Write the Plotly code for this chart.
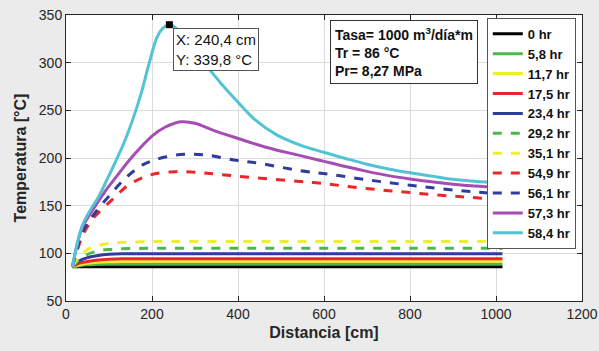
import plotly.graph_objects as go

# ---- data ----
low_x = [15, 30, 50, 75, 100, 130, 200, 400, 600, 800, 1015]
t00_0 = [86, 86, 86, 86, 86, 86, 86, 86, 86, 86, 86]
t05_8 = [86, 87, 88, 88.5, 88.8, 88.9, 88.9, 88.9, 88.9, 88.9, 88.9]
t11_7 = [86, 88, 89.5, 90.6, 91.2, 91.5, 91.6, 91.6, 91.6, 91.6, 91.6]
t17_5 = [86, 89.5, 91.5, 93, 93.8, 94.3, 94.4, 94.4, 94.4, 94.4, 94.4]
t23_4 = [86, 92, 95.5, 97.8, 99, 99.5, 99.6, 99.6, 99.6, 99.6, 99.6]
t29_2 = [86, 93, 99, 102.5, 104, 104.8, 105.3, 105.3, 105.3, 105.3, 105.3]
t35_1 = [86, 96, 104, 108, 110.3, 111.5, 112.3, 112.5, 112.4, 112.3, 112.3]

x54_9 = [15, 40, 64, 107, 146, 196, 254, 300, 351, 444, 576, 692, 800, 913, 1015]
t54_9 = [86, 120, 137, 156, 171.8, 182.2, 185.7, 185, 183, 179, 174.2, 168.3, 163.7, 159.5, 156.5]

x56_1 = [15, 40, 64, 99, 138, 177, 200, 231, 275, 328, 390, 448, 545, 611, 719, 828, 940, 1015]
t56_1 = [86, 124, 140.4, 159.5, 178.8, 192.5, 197, 201, 204, 203, 198, 194.5, 186.7, 183, 176, 170, 164.8, 162.5]

x57_3 = [15, 37, 60, 91, 120, 153.5, 200, 231, 268, 300, 340, 400, 467, 545, 600, 650, 700, 750, 800, 850, 900, 950, 1015]
t57_3 = [86, 126, 144, 165, 182, 201, 223, 232.5, 238, 236.5, 229.5, 220.5, 211, 202.5, 196.5, 191, 186, 181.5, 178, 175, 172.5, 170.5, 168.5]

x58_4 = [15, 37, 55, 76, 95, 115, 135, 155, 175, 192, 212, 225, 240.4, 255, 280, 300, 328, 360, 399, 440, 491, 545, 599, 650, 700, 750, 800, 850, 900, 950, 1015]
t58_4 = [86, 128, 144, 159.5, 177, 196, 216, 240, 268, 297, 327, 336, 339.8, 336.5, 323, 311.5, 296, 278.5, 259, 240, 224, 213.5, 206, 199.5, 193.5, 188.5, 184.5, 181, 177.7, 175.5, 173.5]

peak_x = [240.4]
peak_y = [339.8]

x_ticks = [0, 200, 400, 600, 800, 1000, 1200]
y_ticks = [50, 100, 150, 200, 250, 300, 350]

series = [
    ("0 hr", low_x, t00_0, "#000000", "solid"),
    ("5,8 hr", low_x, t05_8, "#4cb84c", "solid"),
    ("11,7 hr", low_x, t11_7, "#eeee2c", "solid"),
    ("17,5 hr", low_x, t17_5, "#e8272b", "solid"),
    ("23,4 hr", low_x, t23_4, "#2f3c9e", "solid"),
    ("29,2 hr", low_x, t29_2, "#4cb84c", "dash"),
    ("35,1 hr", low_x, t35_1, "#eeee2c", "dash"),
    ("54,9 hr", x54_9, t54_9, "#e8272b", "dash"),
    ("56,1 hr", x56_1, t56_1, "#2f3c9e", "dash"),
    ("57,3 hr", x57_3, t57_3, "#a64db3", "solid"),
    ("58,4 hr", x58_4, t58_4, "#52c3d4", "solid"),
]

FONT = "Arial, 'Liberation Sans', sans-serif"

fig = go.Figure()
for name, xs, ys, col, dash in series:
    fig.add_trace(go.Scatter(
        x=xs, y=ys, name=name, mode="lines",
        line=dict(color=col, width=3, dash=dash, shape="spline", smoothing=1.0),
    ))

fig.add_trace(go.Scatter(
    x=peak_x, y=peak_y, mode="markers", showlegend=False,
    marker=dict(symbol="square", size=7, color="black"),
))

fig.add_annotation(
    xref="paper", yref="paper", x=0.208, y=0.953, xanchor="left", yanchor="top",
    text="X: 240,4 cm<br>Y: 339,8 °C", align="left", showarrow=False,
    font=dict(family=FONT, size=15, color="#111111"),
    bgcolor="white", bordercolor="#555555", borderwidth=1, borderpad=2,
)
fig.add_annotation(
    xref="paper", yref="paper", x=0.512, y=0.982, xanchor="left", yanchor="top",
    text="<b>Tasa= 1000 m<sup>3</sup>/día*m<br>Tr = 86 °C<br>Pr= 8,27 MPa</b>",
    align="left", showarrow=False,
    font=dict(family=FONT, size=14, color="#111111"),
    bgcolor="white", bordercolor="#333333", borderwidth=1, borderpad=4,
)

axis_common = dict(
    automargin=False,
    showline=True, linecolor="#262626", linewidth=1, mirror="ticks",
    ticks="inside", ticklen=5, tickcolor="#262626",
    showgrid=True, gridcolor="#dcdcdc", gridwidth=1, zeroline=False,
    tickfont=dict(family=FONT, size=14, color="#262626"),
)

fig.update_layout(
    width=599, height=351,
    margin=dict(l=66, r=17, t=15, b=50),
    paper_bgcolor="#ebebeb", plot_bgcolor="white",
    font=dict(family=FONT, color="#262626"),
    xaxis=dict(range=[0, 1200], tickvals=x_ticks,
               title=dict(text="<b>Distancia [cm]</b>", font=dict(family=FONT, size=16, color="#262626"), standoff=6),
               **axis_common),
    yaxis=dict(range=[50, 350], tickvals=y_ticks,
               title=dict(text="<b>Temperatura [°C]</b>", font=dict(family=FONT, size=16, color="#262626"), standoff=8),
               **axis_common),
    legend=dict(
        x=0.988, y=0.99, xanchor="right", yanchor="top",
        bgcolor="white", bordercolor="#555555", borderwidth=1,
        font=dict(family=FONT, size=13, color="#111111", weight="bold"),
        tracegroupgap=0, itemwidth=30,
    ),
    showlegend=True,
)

fig.write_html("out.html")
